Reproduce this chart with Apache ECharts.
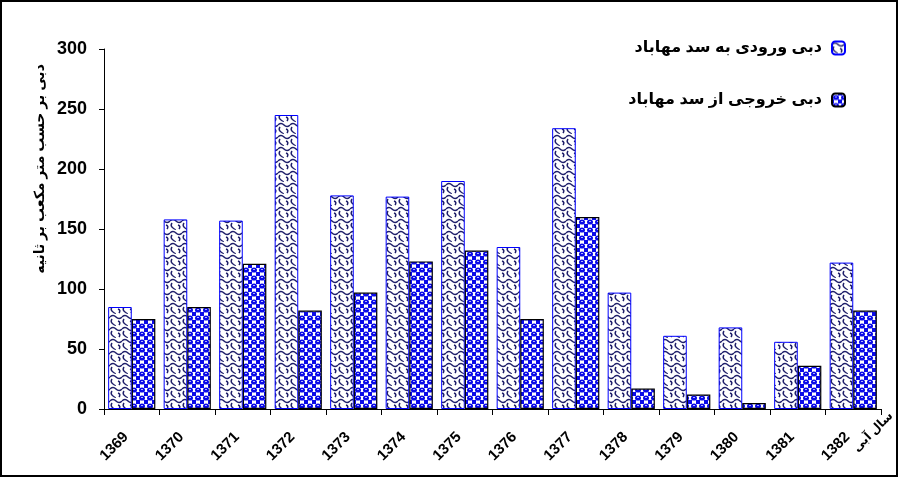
<!DOCTYPE html>
<html><head><meta charset="utf-8">
<script src="https://cdn.jsdelivr.net/npm/echarts@6/dist/echarts.min.js"></script>
<style>
html,body{margin:0;padding:0;background:#fff;}
#c{width:894px;height:473px;border:2px solid #000;}
</style></head>
<body><div id="c"></div>
<script>
const years = ['1369','1370','1371','1372','1373','1374','1375','1376','1377','1378','1379','1380','1381','1382'];
const inflow = [85,158,157,245,178,177,190,135,234,97,61,68,56,122];
const outflow = [75,85,121,82,97,123,132,75,160,17,12,5,36,82];
const yTicks = [0,50,100,150,200,250,300];
const nameIn = 'دبی ورودی به سد مهاباد';
const nameOut = 'دبی خروجی از سد مهاباد';
const yName = 'دبی بر حسب متر مکعب بر ثانیه';
const xName = 'سال آبی';

function patIn(){
  const c=document.createElement('canvas');c.width=12;c.height=12;
  const g=c.getContext('2d');
  g.fillStyle='#fff';g.fillRect(0,0,12,12);
  g.strokeStyle='#1e1e6a';g.lineWidth=1.5;
  g.beginPath();
  g.moveTo(0,3);g.quadraticCurveTo(3,0,6,3);g.quadraticCurveTo(9,6,12,3);
  g.moveTo(2,5);g.quadraticCurveTo(0,8,3,10);g.quadraticCurveTo(6,12,5,12);
  g.moveTo(8,7);g.quadraticCurveTo(11,8,9,11);
  g.stroke();
  return c;
}
function patOut(){
  const c=document.createElement('canvas');c.width=8;c.height=8;
  const g=c.getContext('2d');
  g.fillStyle='#fff';g.fillRect(0,0,8,8);
  g.fillStyle='#0a0ae8';
  g.fillRect(0,0,2,2);g.fillRect(6,0,2,2);g.fillRect(0,6,2,2);g.fillRect(6,6,2,2);
  g.beginPath();g.ellipse(4,4,3,2.6,0,0,Math.PI*2);g.fill();
  g.fillStyle='#b0b0ff';g.fillRect(3,3,2,1);
  return c;
}
const chart = echarts.init(document.getElementById('c'));
const F = "'Liberation Sans','DejaVu Sans',Arial,sans-serif";
chart.setOption({
  animation:false,
  textStyle:{fontFamily:F},
  grid:{left:102,right:15,top:47,bottom:66,containLabel:false},
  legend:{
    orient:'vertical',right:45,top:33,align:'right',itemGap:36,
    itemWidth:13,itemHeight:13,
    textStyle:{fontFamily:F,fontSize:16,fontWeight:'bold',color:'#000',padding:[0,5,0,0]},
    data:[nameIn,nameOut]
  },
  xAxis:{
    type:'category',data:years,
    axisLine:{lineStyle:{color:'#000',width:1}},
    axisTick:{show:true,alignWithLabel:false,length:6,lineStyle:{color:'#000'}},
    axisLabel:{rotate:45,fontSize:15,fontWeight:'bold',color:'#000',margin:20,padding:[0,8,0,0],interval:0}
  },
  yAxis:{
    type:'value',min:0,max:300,interval:50,
    axisLine:{show:true,lineStyle:{color:'#000'}},
    axisTick:{show:true,length:5,lineStyle:{color:'#000'}},
    splitLine:{show:false},
    axisLabel:{fontSize:18,fontWeight:'bold',color:'#000',margin:17}
  },
  graphic:[
    {type:'text',x:38,y:167,rotation:Math.PI/2,style:{text:yName,font:"bold 14px "+F,fill:'#000',textAlign:'center',textVerticalAlign:'middle'}},
    {type:'text',x:871,y:430,rotation:Math.PI/4,style:{text:xName,font:"bold 12px "+F,fill:'#000',textAlign:'center',textVerticalAlign:'middle'}}
  ],
  series:[
    {name:nameIn,type:'bar',data:inflow,barGap:'0%',barCategoryGap:'15%',
     itemStyle:{color:{image:patIn(),repeat:'repeat'},borderColor:'#0000ff',borderWidth:1}},
    {name:nameOut,type:'bar',data:outflow,
     itemStyle:{color:{image:patOut(),repeat:'repeat'},borderColor:'#000',borderWidth:1.2}}
  ]
});
</script></body></html>
